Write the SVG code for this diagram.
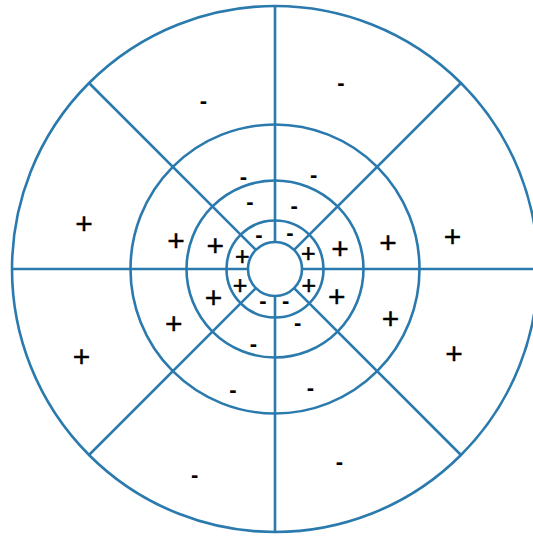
<svg xmlns="http://www.w3.org/2000/svg" width="533" height="536" viewBox="0 0 533 536">
<style>
.c{fill:none;stroke:#2a7aae;stroke-width:2.6}
.s{stroke:#2a7aae;stroke-width:2.6}
.p{font-family:"Liberation Sans",Arial,sans-serif;font-size:30px;fill:#000;text-anchor:middle;stroke:#000;stroke-width:0.4}
.q{font-family:"Liberation Sans",Arial,sans-serif;font-size:25px;fill:#000;text-anchor:middle;stroke:#000;stroke-width:0.5}
.m{font-family:"Liberation Sans",Arial,sans-serif;font-size:22px;font-weight:bold;fill:#000;text-anchor:middle}
</style>
<rect width="533" height="536" fill="#fff"/>
<g id="rings">
<circle class="c" cx="275" cy="269" r="263"/>
<circle class="c" cx="275" cy="269" r="144.5"/>
<circle class="c" cx="275" cy="269" r="88.5"/>
<circle class="c" cx="275" cy="269" r="48.5"/>
<circle class="c" cx="275" cy="269" r="27"/>
</g>
<g id="spokes">
<line class="s" x1="275" y1="242" x2="275" y2="6"/>
<line class="s" x1="275" y1="296" x2="275" y2="532"/>
<line class="s" x1="248" y1="269" x2="12" y2="269"/>
<line class="s" x1="302" y1="269" x2="538" y2="269"/>
<line class="s" x1="255.9" y1="249.9" x2="89" y2="83"/>
<line class="s" x1="294.1" y1="249.9" x2="461" y2="83"/>
<line class="s" x1="255.9" y1="288.1" x2="89" y2="455"/>
<line class="s" x1="294.1" y1="288.1" x2="461" y2="455"/>
</g>
<g id="plus">
<text class="p" x="84" y="233.5">+</text>
<text class="p" x="452.4" y="247">+</text>
<text class="p" x="81.6" y="367">+</text>
<text class="p" x="454" y="363.5">+</text>
<text class="p" x="175.9" y="250.5">+</text>
<text class="p" x="388" y="252.5">+</text>
<text class="p" x="173.8" y="333.5">+</text>
<text class="p" x="390.5" y="328.5">+</text>
<text class="p" x="215.3" y="255.5">+</text>
<text class="p" x="340" y="258.8">+</text>
<text class="p" x="213.6" y="307.5">+</text>
<text class="p" x="336.7" y="306.5">+</text>
<text class="q" x="242.2" y="264.6">+</text>
<text class="q" x="308.2" y="262.2">+</text>
<text class="q" x="240" y="293.8">+</text>
<text class="q" x="308.8" y="293.8">+</text>
</g>
<g id="minus">
<text class="m" x="203.4" y="108.2">-</text>
<text class="m" x="340.8" y="89.5">-</text>
<text class="m" x="194.6" y="482.2">-</text>
<text class="m" x="339.5" y="468.8">-</text>
<text class="m" x="243.5" y="183.8">-</text>
<text class="m" x="313.6" y="182.1">-</text>
<text class="m" x="233" y="397.2">-</text>
<text class="m" x="310.5" y="394.6">-</text>
<text class="m" x="250" y="209.2">-</text>
<text class="m" x="294.2" y="213">-</text>
<text class="m" x="253.4" y="351.4">-</text>
<text class="m" x="297.6" y="330.2">-</text>
<text class="m" x="259" y="241.6">-</text>
<text class="m" x="289.8" y="239.5">-</text>
<text class="m" x="263" y="308.2">-</text>
<text class="m" x="285.7" y="308.2">-</text>
</g>
</svg>
